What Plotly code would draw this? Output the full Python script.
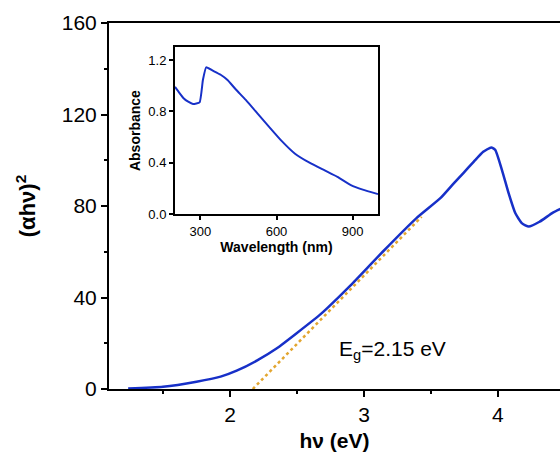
import plotly.graph_objects as go

# Main plot: Tauc plot data
hv_ev = [1.24, 1.50, 1.75, 1.93, 2.05, 2.20, 2.35, 2.50, 2.67, 2.73, 2.90, 3.14, 3.39, 3.57,
         3.67, 3.74, 3.82, 3.89, 3.95, 3.98, 4.03, 4.08, 4.13, 4.18, 4.23, 4.31, 4.41, 4.47]
ahv_sq = [0.2, 1.0, 3.2, 5.4, 8.0, 12.4, 17.8, 24.5, 32.4, 35.6, 45.3, 60.0, 74.6, 83.4,
          89.9, 94.3, 99.4, 103.7, 105.6, 104.5, 95.7, 85.5, 76.8, 72.4, 71.0, 73.1, 77.1, 78.8]

# Tangent (extrapolation) line
fit_x = [2.17, 3.43]
fit_y = [0.0, 75.3]

# Inset: absorbance spectrum
wavelength = [200, 215, 235, 252, 271, 297, 310, 323, 349, 380, 407, 440, 479, 530, 576,
              620, 673, 730, 790, 840, 893, 940, 1000]
absorbance = [0.99, 0.95, 0.90, 0.875, 0.857, 0.87, 1.044, 1.143, 1.117, 1.085, 1.044, 0.97,
              0.889, 0.772, 0.668, 0.57, 0.47, 0.40, 0.34, 0.29, 0.226, 0.19, 0.155]

x_ticks = [2, 3, 4]
y_ticks = [0, 40, 80, 120, 160]
inset_x_ticks = [300, 600, 900]
inset_y_ticks = [0.0, 0.4, 0.8, 1.2]

BLUE = "#1730C8"
ORANGE = "#E3A630"
FONT = "Liberation Sans, Arial, sans-serif"

fig = go.Figure()
fig.add_trace(go.Scatter(x=hv_ev, y=ahv_sq, mode="lines",
                         line=dict(color=BLUE, width=2.5, shape="spline", smoothing=0.5),
                         showlegend=False))
fig.add_trace(go.Scatter(x=fit_x, y=fit_y, mode="lines", line=dict(color=ORANGE, width=2.5, dash="dot"),
                         showlegend=False))
fig.add_trace(go.Scatter(x=wavelength, y=absorbance, mode="lines", xaxis="x2", yaxis="y2",
                         line=dict(color=BLUE, width=2, shape="spline", smoothing=0.4), showlegend=False))

fig.update_layout(
    width=560, height=453,
    margin=dict(l=109, r=0, t=23, b=64),
    paper_bgcolor="white", plot_bgcolor="white",
    font=dict(family=FONT, color="black"),
    xaxis=dict(range=[1.097, 4.463], tickvals=x_ticks, ticktext=[str(v) for v in x_ticks],
               showline=True, linecolor="black", linewidth=2, mirror=True,
               ticks="outside", ticklen=6, tickwidth=2, tickcolor="black",
               minor=dict(dtick=0.5, tick0=0, ticks="outside", ticklen=3, tickwidth=2, tickcolor="black"),
               showgrid=False, zeroline=False, tickfont=dict(size=21),
               title=dict(text="<b>hν (eV)</b>", font=dict(size=21), standoff=8)),
    yaxis=dict(range=[0, 160], tickvals=y_ticks, ticktext=[str(v) for v in y_ticks],
               showline=True, linecolor="black", linewidth=2, mirror=False,
               ticks="outside", ticklen=6, tickwidth=2, tickcolor="black",
               minor=dict(dtick=20, tick0=0, ticks="outside", ticklen=3, tickwidth=2, tickcolor="black"),
               showgrid=False, zeroline=False, tickfont=dict(size=21),
               title=dict(text="<b>(αhν)<sup>2</sup></b>", font=dict(size=22), standoff=20)),
    xaxis2=dict(domain=[0.1463, 0.5965], anchor="y2", range=[200, 1000], tickvals=inset_x_ticks,
                showline=True, linecolor="black", linewidth=2, mirror=True,
                ticks="outside", ticklen=4, tickwidth=1.5, tickcolor="black",
                showgrid=False, zeroline=False, tickfont=dict(size=13),
                title=dict(text="<b>Wavelength (nm)</b>", font=dict(size=14), standoff=4)),
    yaxis2=dict(domain=[0.478, 0.934], anchor="x2", range=[0, 1.3], tickvals=inset_y_ticks,
                ticktext=["%.1f" % v for v in inset_y_ticks],
                showline=True, linecolor="black", linewidth=2, mirror=True,
                ticks="outside", ticklen=4, tickwidth=1.5, tickcolor="black",
                showgrid=False, zeroline=False, tickfont=dict(size=13),
                title=dict(text="<b>Absorbance</b>", font=dict(size=14), standoff=4)),
    annotations=[dict(x=3.21, y=17.0, xref="x", yref="y", text="E<sub>g</sub>=2.15 eV",
                      showarrow=False, font=dict(size=21, family=FONT, color="black"))],
)

fig.write_html("out.html")
